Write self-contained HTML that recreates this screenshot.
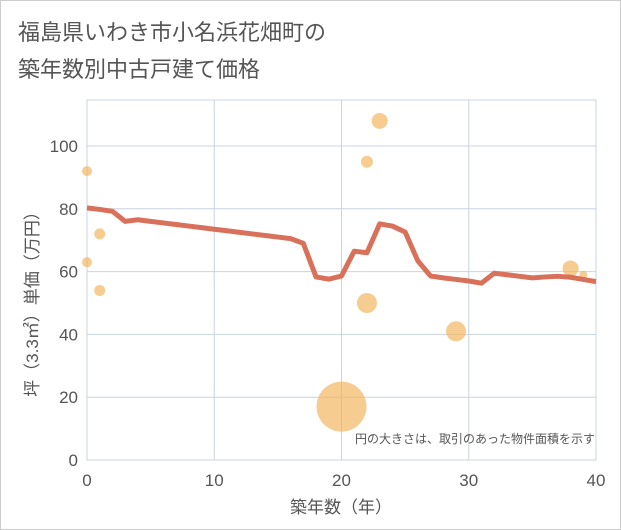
<!DOCTYPE html>
<html><head><meta charset="utf-8">
<style>
body{margin:0;background:#fff;}
svg{display:block;font-family:"Liberation Sans","Noto Sans CJK JP",sans-serif;}
</style></head><body>
<svg width="621" height="530">
<rect x="0.5" y="0.5" width="620" height="529" fill="#fff" stroke="#ccc"/>
<text x="18" y="40" font-size="22" fill="#555">福島県いわき市小名浜花畑町の</text>
<text x="18" y="77" font-size="22" fill="#555">築年数別中古戸建て価格</text>
<g id="grid"></g>
<g id="axes"></g>
<g id="bubbles"></g>
<g id="line"></g>
<text x="595" y="443" font-size="12" fill="#555" text-anchor="end">円の大きさは、取引のあった物件面積を示す</text>
<text x="341" y="513" font-size="17" fill="#555" text-anchor="middle">築年数（年）</text>
<text transform="translate(38,300) rotate(-90)" font-size="17" fill="#555" text-anchor="middle">坪（3.3㎡）単価（万円）</text>
</svg>
<script>
const xTicks=[0,10,20,30,40];
const yTicks=[0,20,40,60,80,100];
const lineYears=[0,1,2,3,4,5,6,7,8,9,10,11,12,13,14,15,16,17,18,19,20,21,22,23,24,25,26,27,28,29,30,31,32,33,34,35,36,37,38,39,40];
const lineValues=[80.3,79.8,79.2,76,76.5,76,75.5,75,74.5,74,73.5,73,72.5,72,71.5,71,70.5,69,58.3,57.6,58.6,66.5,66,75.2,74.5,72.6,63.4,58.6,58,57.5,57,56.3,59.5,59,58.5,58,58.3,58.5,58.2,57.5,56.8];
const bubbleYears=[0,0,1,1,20,22,22,23,29,38,39];
const bubbleValues=[92,63,72,54,17,95,50,108,41,61,59];
const bubbleRadii=[5,5,5.5,5.5,25,6,10,8,10,8,4];
const NS="http://www.w3.org/2000/svg";
const X0=87,X1=596,Y0=460,PPU=3.14;
const xs=v=>X0+(X1-X0)*v/40;
const ys=v=>Y0-v*PPU;
function mk(t,a,p){const e=document.createElementNS(NS,t);for(const k in a)e.setAttribute(k,a[k]);p.appendChild(e);return e;}
const grid=document.getElementById('grid'),axes=document.getElementById('axes');
mk('rect',{x:X0,y:100,width:X1-X0,height:Y0-100,fill:'none',stroke:'#c8d4e0'},grid);
xTicks.forEach(t=>{
 const l=mk('line',{x1:xs(t),x2:xs(t),y1:100,y2:Y0,stroke:'#c8d4e0'},grid);
 
 
 const tx=mk('text',{x:xs(t),y:486,'font-size':17,fill:'#555','text-anchor':'middle'},axes);
 tx.textContent=t;
 
 
});
yTicks.forEach(t=>{
 const l=mk('line',{x1:X0,x2:X1,y1:ys(t),y2:ys(t),stroke:'#c8d4e0'},grid);
 
 
 const tx=mk('text',{x:78,y:ys(t)+6,'font-size':17,fill:'#555','text-anchor':'end'},axes);
 tx.textContent=t;
 
 
});
const bg=document.getElementById('bubbles');
bubbleYears.forEach((y,i)=>{
 const c=mk('circle',{cx:xs(y),cy:ys(bubbleValues[i]),r:bubbleRadii[i],fill:'#f2b661','fill-opacity':0.7},bg);
 
 
});
const pts=lineYears.map((y,i)=>xs(y)+','+ys(lineValues[i])).join(' ');
const pl=mk('polyline',{points:pts,fill:'none',stroke:'#d9705a','stroke-width':5,'stroke-linejoin':'round'},document.getElementById('line'));


</script>
</body></html>
